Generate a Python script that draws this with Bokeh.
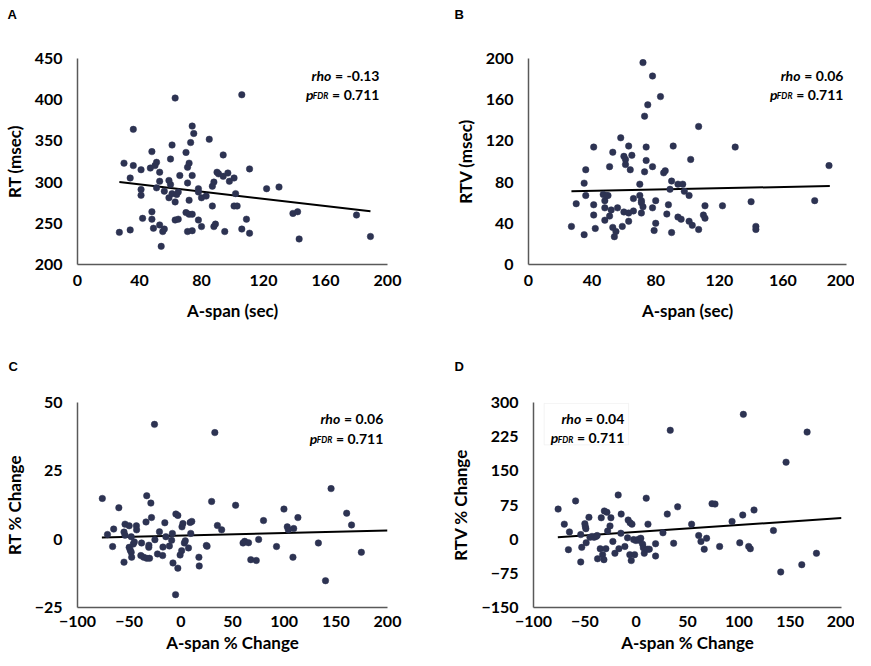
from bokeh.plotting import figure
from bokeh.models import Label, BoxAnnotation, FixedTicker
from bokeh.layouts import column, row
from bokeh.embed import file_html
from bokeh.resources import INLINE

# ---------------- data ----------------
# Panel A: A-span (sec) vs RT (msec)
a_x = [27, 30, 34, 34, 36, 36, 41, 41, 41, 42, 47, 48, 48, 48, 49, 50, 51, 51, 53, 53,
       53, 54, 55, 56, 56, 59, 59, 60, 60, 61, 61, 63, 63, 63, 64, 65, 65, 66, 70, 71,
       71, 70, 71, 72, 72, 72, 73, 74, 74, 74, 74, 75, 78, 78, 78, 80, 80, 83, 85, 87,
       87, 88, 88, 89, 90, 91, 94, 94, 95, 97, 98, 101, 101, 102, 103, 106, 106, 109, 111, 111,
       122, 130, 139, 142, 143, 180, 189]
a_y = [239, 323, 305, 242, 364, 320, 291, 284, 315, 256, 317, 337, 264, 255, 244, 320, 324, 293, 301, 312,
       248, 222, 240, 243, 289, 302, 281, 328, 297, 345, 286, 276, 402, 254, 285, 288, 255, 308, 336, 318,
       299, 263, 240, 278, 323, 261, 348, 261, 368, 308, 241, 359, 292, 288, 254, 281, 246, 283, 352, 295,
       271, 246, 300, 249, 312, 310, 333, 307, 240, 311, 301, 305, 271, 286, 271, 406, 243, 255, 316, 238,
       292, 294, 262, 264, 231, 260, 234]
a_trend_x = [27, 189]
a_trend_y = [300.2, 264.6]

# Panel B: A-span (sec) vs RTV (msec)
b_x = [27, 30, 35, 35, 36, 36, 41, 41, 41, 42, 47, 48, 48, 49, 48, 50, 51, 51, 52, 53,
       53, 54, 55, 56, 59, 58, 60, 60, 61, 61, 63, 63, 63, 64, 65, 66, 66, 70, 70, 71,
       71, 71, 72, 72, 73, 73, 74, 74, 75, 78, 78, 78, 79, 80, 80, 83, 85, 86, 87, 88,
       89, 90, 90, 91, 94, 94, 96, 97, 98, 101, 102, 101, 103, 107, 107, 110, 111, 111, 122, 130,
       140, 143, 143, 180, 189]
b_y = [37, 59, 29, 79, 92, 67, 114, 58, 48, 35, 68, 43, 62, 67, 55, 67, 47, 95, 53, 36,
       109, 27, 32, 55, 37, 123, 51, 105, 102, 97, 50, 115, 42, 92, 106, 52, 64, 78, 67, 50,
       62, 60, 56, 196, 144, 90, 114, 101, 155, 183, 55, 95, 33, 62, 40, 163, 89, 91, 49, 58,
       73, 31, 81, 115, 78, 46, 44, 78, 71, 67, 102, 42, 38, 134, 34, 48, 57, 45, 57, 114,
       61, 37, 34, 62, 96]
b_trend_x = [27, 189.5]
b_trend_y = [71.1, 76.2]

# Panel C: A-span % Change vs RT % Change
c_x = [-76, -71, -66, -65, -60, -55, -55, -54, -54, -50, -50, -49, -48, -48, -47.6, -46, -45, -43, -42.8, -38,
       -38.7, -36, -33, -33.7, -33, -31, -30.9, -30.3, -29, -28.4, -25.5, -25.1, -22.6, -20.7, -17.3, -17.6, -15.5, -14.5, -11.1, -8.9,
       -8.2, -7.6, -5.1, -4.8, -2.9, -2.9, -0.7, 0.8, 1.1, 2, 3.4, 4.3, 7.4, 9, 10.6, 9.6, 17.5, 17.8, 24.7, 25.4,
       29.8, 32.9, 35.4, 39.5, 53, 60.2, 61.8, 65.5, 67.7, 73, 75.3, 80, 92.6, 99.8, 103, 104, 108.5, 109.2, 113.3, 133.1,
       140, 145.4, 160.5, 165.2, 174.7]
c_y = [14.9, 1.7, -2.7, 3.7, 11.5, 2.6, -8.4, 5.5, 1.4, 4.9, -3, -4, -4.8, 0.9, -6.6, -1.8, -1, 4.9, 3.4, -1.4,
       -6, -6.6, -7, 6.3, 15.9, -3, -2.2, -7, 13.2, 7.9, 42, -0.2, -5.4, 2.7, -2.9, -6, 6, 0.9, -2.5, -0.4,
       2.1, -8.7, -20.3, 9.2, 8.7, -10.6, -5.8, -4.2, 4.5, 5.7, -1.4, -0.6, -3.2, 6.1, 6.5, 2.1, -6.6, -9.8, -2.3, -2.6,
       13.8, 39, 5, 3.4, 12.4, -1.4, -0.8, -1.3, -7.5, -7.8, -0.1, 6.8, -2.7, 11, 4.5, 3.4, -6.6, 3.9, 7.9, -1.4,
       -15.2, 18.5, 9.5, 5.2, -4.8]
c_trend_x = [-76.4, 200]
c_trend_y = [0.6, 3.2]

# Panel D: A-span % Change vs RTV % Change
d_x = [-76, -70, -65, -66, -59, -54, -54, -53, -50, -49.5, -49, -48.7, -46, -45, -43, -41, -39, -38, -37.6, -35,
       -34, -32.7, -31.4, -31, -28.5, -29.5, -27.8, -25.5, -24.6, -22.7, -20.7, -17.5, -16.8, -14.9, -14.6, -11, -8.4, -7.8, -5.9, -6.2,
       -4.8, -4.1, -2.5, -1.5, -0.2, 2.4, 3.7, 4.5, 6.3, 7, 7.9, 9.8, 11.1, 12.8, 11.5, 18.9, 18.9, 26.1, 30.3, 33.2,
       36.5, 40.4, 54, 60.9, 63.1, 66.3, 68.6, 73.9, 76.8, 81.3, 93.4, 100.9, 103.8, 104.4, 109.6, 111.2, 114.8, 133.7, 140.8, 146,
       161.3, 166.5, 175.6]
d_y = [66, 33, 16, -23, 84, 10, -50, -18, 34, 28, 23, -8, 48, 4, 6, 4, 6, 8, -43, -21,
       47, -34, -45, 62, 59, -21, 18, 29, 47, -5, -31, 97, -21, 13, 55, -16, 3, 42, 36, -34,
       -47, 33, -1, -34, -3, 0, -3, 2, -11, -19, -31, 90, -22, -22, 33, -10, -37, 14, 55, 239,
       -9, 71, 33, 8, -5, -22, 2, 78, 77, -16, 39, -8, 53, 274, -16, -21, 64, 19, -72, 169,
       -56, 235, -31]
d_trend_x = [-76.3, 200]
d_trend_y = [4.0, 46.5]

a_xticks = [0, 40, 80, 120, 160, 200]
a_yticks = [200, 250, 300, 350, 400, 450]
b_yticks = [0, 40, 80, 120, 160, 200]
c_xticks = [-100, -50, 0, 50, 100, 150, 200]
c_yticks = [-25, 0, 25, 50]
d_yticks = [-150, -75, 0, 75, 150, 225, 300]

panel_letters = ["A", "B", "C", "D"]
stats = [("-0.13", "0.711"), ("0.06", "0.711"), ("0.06", "0.711"), ("0.04", "0.711")]

# ---------------- style ----------------
FONT = "Lato"
DOT = "#2d3352"
AXIS = "#595959"


def make_fig(w, h, xr, yr, xticks, yticks, xlabel, ylabel, borders, xstand, letter, loff, lstand):
    p = figure(width=w, height=h, x_range=xr, y_range=yr, output_backend="svg",
               toolbar_location=None, tools="")
    l, r, t, b = borders
    p.min_border_left = l
    p.min_border_right = r
    p.min_border_top = t
    p.min_border_bottom = b
    p.outline_line_color = None
    p.grid.visible = False
    p.background_fill_color = "white"
    p.border_fill_color = "white"
    p.title.text = letter
    p.title.align = "left"
    p.title.vertical_align = "top"
    p.title.offset = loff
    p.title.standoff = lstand
    p.title.text_font = "Liberation Sans"
    p.title.text_font_style = "bold"
    p.title.text_font_size = "13px"
    p.title.text_color = "black"
    for ax in (p.xaxis[0], p.yaxis[0]):
        ax.axis_line_color = AXIS
        ax.axis_line_width = 1.5
        ax.major_tick_line_color = None
        ax.minor_tick_line_color = None
        ax.major_tick_out = 0
        ax.major_tick_in = 0
        ax.minor_tick_out = 0
        ax.major_label_text_font = FONT
        ax.major_label_text_font_style = "bold"
        ax.major_label_text_font_size = "16px"
        ax.major_label_text_color = "black"
        ax.axis_label_text_font = FONT
        ax.axis_label_text_font_style = "bold"
        ax.axis_label_text_font_size = "17px"
        ax.axis_label_text_color = "black"
    p.xaxis[0].ticker = FixedTicker(ticks=xticks)
    p.yaxis[0].ticker = FixedTicker(ticks=yticks)
    p.xaxis[0].axis_label = xlabel
    p.yaxis[0].axis_label = ylabel
    p.xaxis[0].major_label_standoff = xstand[0]
    p.xaxis[0].axis_label_standoff = xstand[1]
    p.yaxis[0].major_label_standoff = 15
    p.yaxis[0].axis_label_standoff = 7
    return p


def add_points(p, xs, ys, tx, ty):
    p.line(tx, ty, line_color="black", line_width=2)
    p.scatter(xs, ys, size=6.5, fill_color=DOT, line_color=DOT, line_width=0.5)


def add_stats(p, xr, y1, y2, rho, pval, rho_off):
    fs = "14px"
    p.add_layout(Label(x=xr, y=y1, text="= " + rho, text_align="right", text_baseline="alphabetic",
                       text_font=FONT, text_font_style="bold", text_font_size=fs, text_color="black"))
    p.add_layout(Label(x=xr, y=y1, x_offset=-rho_off, text="rho", text_align="right",
                       text_baseline="alphabetic", text_font=FONT, text_font_style="bold italic",
                       text_font_size=fs, text_color="black"))
    p.add_layout(Label(x=xr, y=y2, text="= " + pval, text_align="right", text_baseline="alphabetic",
                       text_font=FONT, text_font_style="bold", text_font_size=fs, text_color="black"))
    p.add_layout(Label(x=xr, y=y2, x_offset=-51, y_offset=-2, text="FDR", text_align="right",
                       text_baseline="alphabetic", text_font=FONT, text_font_style="bold italic",
                       text_font_size="8.5px", text_color="black"))
    p.add_layout(Label(x=xr, y=y2, x_offset=-66, text="p", text_align="right",
                       text_baseline="alphabetic", text_font=FONT, text_font_style="bold italic",
                       text_font_size=fs, text_color="black"))


# top-row letters sit high in the border: padded with blank lines below
pA = make_fig(430, 331, (0, 200), (200, 450), a_xticks, a_yticks, "A-span (sec)", "RT (msec)",
              (70, 43, 58, 67), (10, 11), panel_letters[0] + "\n \n ", -70, 9)
add_points(pA, a_x, a_y, a_trend_x, a_trend_y)
add_stats(pA, 194.8, 429.8, 406.8, stats[0][0], stats[0][1], 48)

pB = make_fig(424, 331, (0, 200), (0, 200), a_xticks, b_yticks, "A-span (sec)", "RTV (msec)",
              (98, 8, 58, 67), (10, 11), panel_letters[1] + "\n \n ", -74, 9)
add_points(pB, b_x, b_y, b_trend_x, b_trend_y)
add_stats(pB, 198.1, 183.8, 165.4, stats[1][0], stats[1][1], 43)

pC = make_fig(430, 325, (-100, 200), (-25, 50), c_xticks, c_yticks, "A-span % Change", "RT % Change",
              (69, 43, 69, 49), (8, 2), panel_letters[2], -69, 54)
add_points(pC, c_x, c_y, c_trend_x, c_trend_y)
add_stats(pC, 195.9, 44.0, 36.9, stats[2][0], stats[2][1], 43)

pD = make_fig(424, 325, (-100, 200), (-150, 300), c_xticks, d_yticks, "A-span % Change", "RTV % Change",
              (103, 13, 69, 49), (8, 2), panel_letters[3], -79, 54)
pD.add_layout(BoxAnnotation(left=-89.6, right=-7.4, bottom=207, top=298, fill_color="white",
                            fill_alpha=1.0, line_color="#d9d9d9", line_width=1))
add_points(pD, d_x, d_y, d_trend_x, d_trend_y)
add_stats(pD, -11.6, 265.2, 223.1, stats[3][0], stats[3][1], 43)

layout = column(row(pA, pB), row(pC, pD))

with open("out.html", "w") as f:
    f.write(file_html(layout, INLINE))
